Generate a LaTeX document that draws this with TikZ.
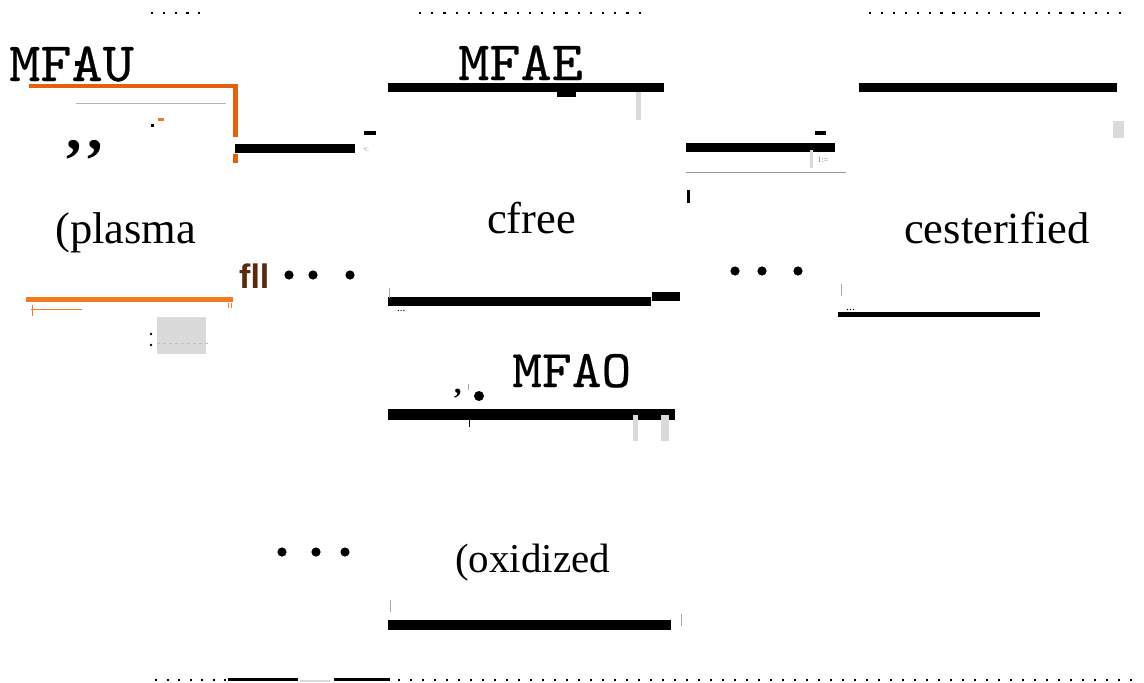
\documentclass[tikz,border=0pt]{standalone}
\usepackage{fontspec}
\setmainfont{Liberation Serif}
\newfontfamily\lsans{Liberation Sans}
\newfontfamily\lmtt{lmmono10-regular.otf}[FakeStretch=1.07,FakeBold=0.4]
\begin{document}
\begin{tikzpicture}[x=1pt,y=-1pt,
  lbl/.style={inner sep=0pt,anchor=base west},
  monolbl/.style={lbl,font=\lmtt\fontsize{55.5}{60}\selectfont},
  serlbl/.style={lbl,font=\fontsize{44.5}{48}\selectfont},
  tick/.style={draw=gray!70,line width=0.8pt}]
\definecolor{orA}{HTML}{E5600A}
\definecolor{orB}{HTML}{F47920}
\definecolor{brn}{HTML}{5A2A0C}
\definecolor{lg}{HTML}{DADADA}
\useasboundingbox (0,0) rectangle (1144,683);
\fill[white] (0,0) rectangle (1144,683);
% top dotted rows
\foreach \i in {0,...,4}{\fill (152+\i*11.8-1,12) rectangle ++(2.2,2.2);}
\foreach \i in {0,...,18}{\fill (420+\i*12.2-1,12) rectangle ++(2.2,2.2);}
\foreach \i in {0,...,21}{\fill (870+\i*11.9-1,12) rectangle ++(2.2,2.2);}
% bottom dotted row
\foreach \i in {0,...,6}{\fill (156+\i*11.5-1,679) rectangle ++(2.2,2.2);}
\foreach \i in {0,...,61}{\fill (399+\i*12-1,679) rectangle ++(2.2,2.2);}
\fill (228,678) rectangle (298,681);
\fill[lg] (300,680) rectangle (330,682);
\fill (334,678) rectangle (390,681);
% labels
\node[monolbl] (mfau) at (9,81) {MFAU};
\node[monolbl] (mfae) at (458,80) {MFAE};
\node[monolbl,font=\lmtt\fontsize{53}{56}\selectfont] (mfao) at (512,387) {MFAO};
\node[serlbl] (plasma) at (55,243) {(plasma};
\node[serlbl] (cfree) at (487,233) {cfree};
\node[serlbl] (cest) at (904,243) {cesterified};
\node[lbl,font=\fontsize{41}{44}\selectfont] (oxid) at (455,572) {(oxidized};
\node[lbl,font=\lsans\bfseries\fontsize{34}{36}\selectfont,text=brn] (fll) at (239,288) {fll};
\node[lbl,font=\bfseries\fontsize{62}{64}\selectfont] (comma1) at (66,149) {,};
\node[lbl,font=\bfseries\fontsize{62}{64}\selectfont] (comma2) at (87,149) {,};
\node[lbl,font=\bfseries\fontsize{30}{32}\selectfont] (comma3) at (454,393) {,};
% MFAU block
\fill (75,61) rectangle (84,66);
\draw[orA,line width=4.5pt] (29,86) -- (235.5,86) -- (235.5,137);
\fill[orA] (233,154) rectangle (238,163);
\draw[gray!60,line width=1pt] (76,103) -- (226,103);
\fill[orB] (158,118) rectangle (164,120.5);
\fill (151,124) rectangle (154,127);
\fill (235,144) rectangle (355,153);
\fill (364,131) rectangle (376,135);
\node[inner sep=0pt,font=\fontsize{5}{5}\selectfont,text=gray] (degc) at (366,150) {°C};
% MFAE block
\fill (388,83) rectangle (664,92);
\fill (557,92) rectangle (576,97);
\fill[lg] (636,92) rectangle (641,120);
\fill (859,83) rectangle (1117,92);
\fill (686,143) rectangle (835,152);
\fill (815,131) rectangle (826,135);
\draw[gray!80,line width=1pt] (686,172) -- (846,172);
\fill (687,190) rectangle (690,203);
\fill[lg] (810,150) rectangle (813,168);
\node[inner sep=0pt,font=\fontsize{8}{8}\selectfont,text=gray] (eq) at (823,160) {1:=};
\fill[lg] (1113,121) rectangle (1124,138);
% bullets
\foreach \x/\y in {289/275,313/275,350/275,735/271,762/271,798/271,282/552,316/552,345/552}{\fill (\x,\y) circle (4.6);}
% plasma block
\draw[orB,line width=5pt] (26,299.5) -- (233,299.5);
\draw[orB,line width=0.8pt] (31,309) -- (82,309);
\draw[orB,line width=0.8pt] (32,305) -- (32,316);
\draw[orB,line width=0.8pt] (228,303) -- (228,308) (231,303) -- (231,308);
\fill[lg] (157,317) rectangle (206,354);
\fill (151,334) circle (1.4);
\fill (151,345) circle (1.4);
\draw[gray!50,dashed,line width=0.5pt] (157,343) -- (210,343);
% cfree block
\fill (388,297) rectangle (651,306);
\fill (652,292) rectangle (680,301);
\draw[tick] (389,288) -- (389,298);
\node[lbl,font=\fontsize{11}{11}\selectfont] (dots1) at (397,311) {...};
% cesterified block
\fill (838,312) rectangle (1040,317);
\draw[tick] (841,284) -- (841,296);
\node[lbl,font=\fontsize{12}{12}\selectfont] (dots2) at (846,310) {...};
% MFAO block
\fill (479,396) circle (5);
\draw[tick] (468,384) -- (468,390);
\fill (388,409) rectangle (675,420);
\fill[lg] (633,415) rectangle (638,441);
\fill[lg] (661,415) rectangle (669,441);
\draw[line width=0.8pt] (469,420) -- (469,427);
% oxidized block
\fill (388,620) rectangle (671,630);
\draw[tick] (390,600) -- (390,612);
\draw[tick] (681,614) -- (681,626);
\end{tikzpicture}
\end{document}
